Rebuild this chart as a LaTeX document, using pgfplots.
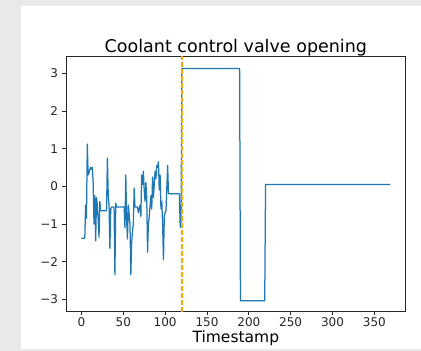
\documentclass[border=0pt]{standalone}
\usepackage{fontspec}
\setmainfont{DejaVu Sans}
\usepackage{pgfplots}
\pgfplotsset{compat=1.18}
\definecolor{bgray}{RGB}{233,233,233}
\definecolor{mblue}{HTML}{1f77b4}
\definecolor{morange}{RGB}{255,165,0}
\begin{document}
\begin{tikzpicture}
\fill[bgray] (-66pt,-39.3pt) rectangle (355pt,311.7pt);
\fill[white] (-45pt,-37.8pt) rectangle (355pt,305.7pt);
\useasboundingbox (-66pt,-39.3pt) rectangle (355pt,311.7pt);
\begin{axis}[
  at={(0pt,0pt)}, anchor=south west,
  scale only axis, width=339.7pt, height=255.7pt,
  xmin=-18.45, xmax=387.45, ymin=-3.33, ymax=3.46,
  axis line style={draw=black!85, line width=0.8pt},
  tick align=outside, tick pos=left,
  major tick length=3.5pt,
  tick style={black!85, line width=0.8pt},
  xtick={0,50,100,150,200,250,300,350},
  ytick={-3,-2,-1,0,1,2,3},
  yticklabels={−3,−2,−1,0,1,2,3},
  xticklabels={0,50,100,150,200,250,300,350},
  ticklabel style={font=\fontsize{12}{14}\selectfont, text=black!85},
  xticklabel style={yshift=1.5pt},
  yticklabel style={xshift=-1pt},
  title={Coolant control valve opening},
  title style={at={(0.5,1)}, anchor=base, yshift=-3pt, font=\fontsize{17.5}{20}\selectfont},
  xlabel={Timestamp},
  xlabel style={at={(0.5,0)}, anchor=base, yshift=-31pt, font=\fontsize{15.5}{18}\selectfont},
  clip=true,
]
\addplot[mblue, line width=1.25pt, line join=round] coordinates {
(0,-1.38)(4,-1.38)(5,-0.5)(6,-0.85)(7,1.12)(8,0.3)(9,0.35)(10,0.45)(11,0.5)(12,0.45)(13,0.5)
(14,0.1)(15,-1.0)(16,-0.25)(17,-1.45)(18,-0.3)(19,-0.5)(20,-0.9)(21,-1.35)(22,-0.4)(23,-0.65)
(30,-0.65)(31,0.75)(32,-0.2)(33,-0.5)(34,-1.65)(35,-0.6)(36,-0.55)(39,-0.55)(40,-2.35)(41,-0.45)
(42,-0.55)(51,-0.55)(52,-1.1)(53,0.3)(54,-0.9)(55,-1.4)(56,-0.5)(58,-1.0)(59,-2.35)(60,-1.5)
(61,-1.2)(62,-1.0)(63,-0.05)(64,-0.55)(67,-0.55)(68,-0.7)(70,-0.5)(71,-0.8)(72,0.3)(73,0.05)
(74,0.4)(75,-0.1)(76,-0.4)(77,0.1)(78,-0.3)(79,-1.75)(80,-1.0)(81,-0.8)(83,-0.25)(84,-0.6)
(85,0.25)(86,-0.3)(88,0.4)(89,0.2)(90,0.55)(91,0.5)(92,0.65)(93,-0.1)(94,0.3)(95,-0.6)(96,-0.4)
(97,-1.0)(98,-1.95)(99,-0.8)(100,-0.7)(101,-0.65)(103,0.55)(104,-0.2)(117,-0.2)(118,-1.05)
(119,-1.1)(120,3.13)(189,3.13)(190,-3.04)(219,-3.04)(220,0.05)(369,0.05)
};
\addplot[color=morange, line width=1.4pt, dash pattern=on 5pt off 2pt] coordinates {(120,-3.33)(120,3.46)};
\end{axis}
\end{tikzpicture}
\end{document}
